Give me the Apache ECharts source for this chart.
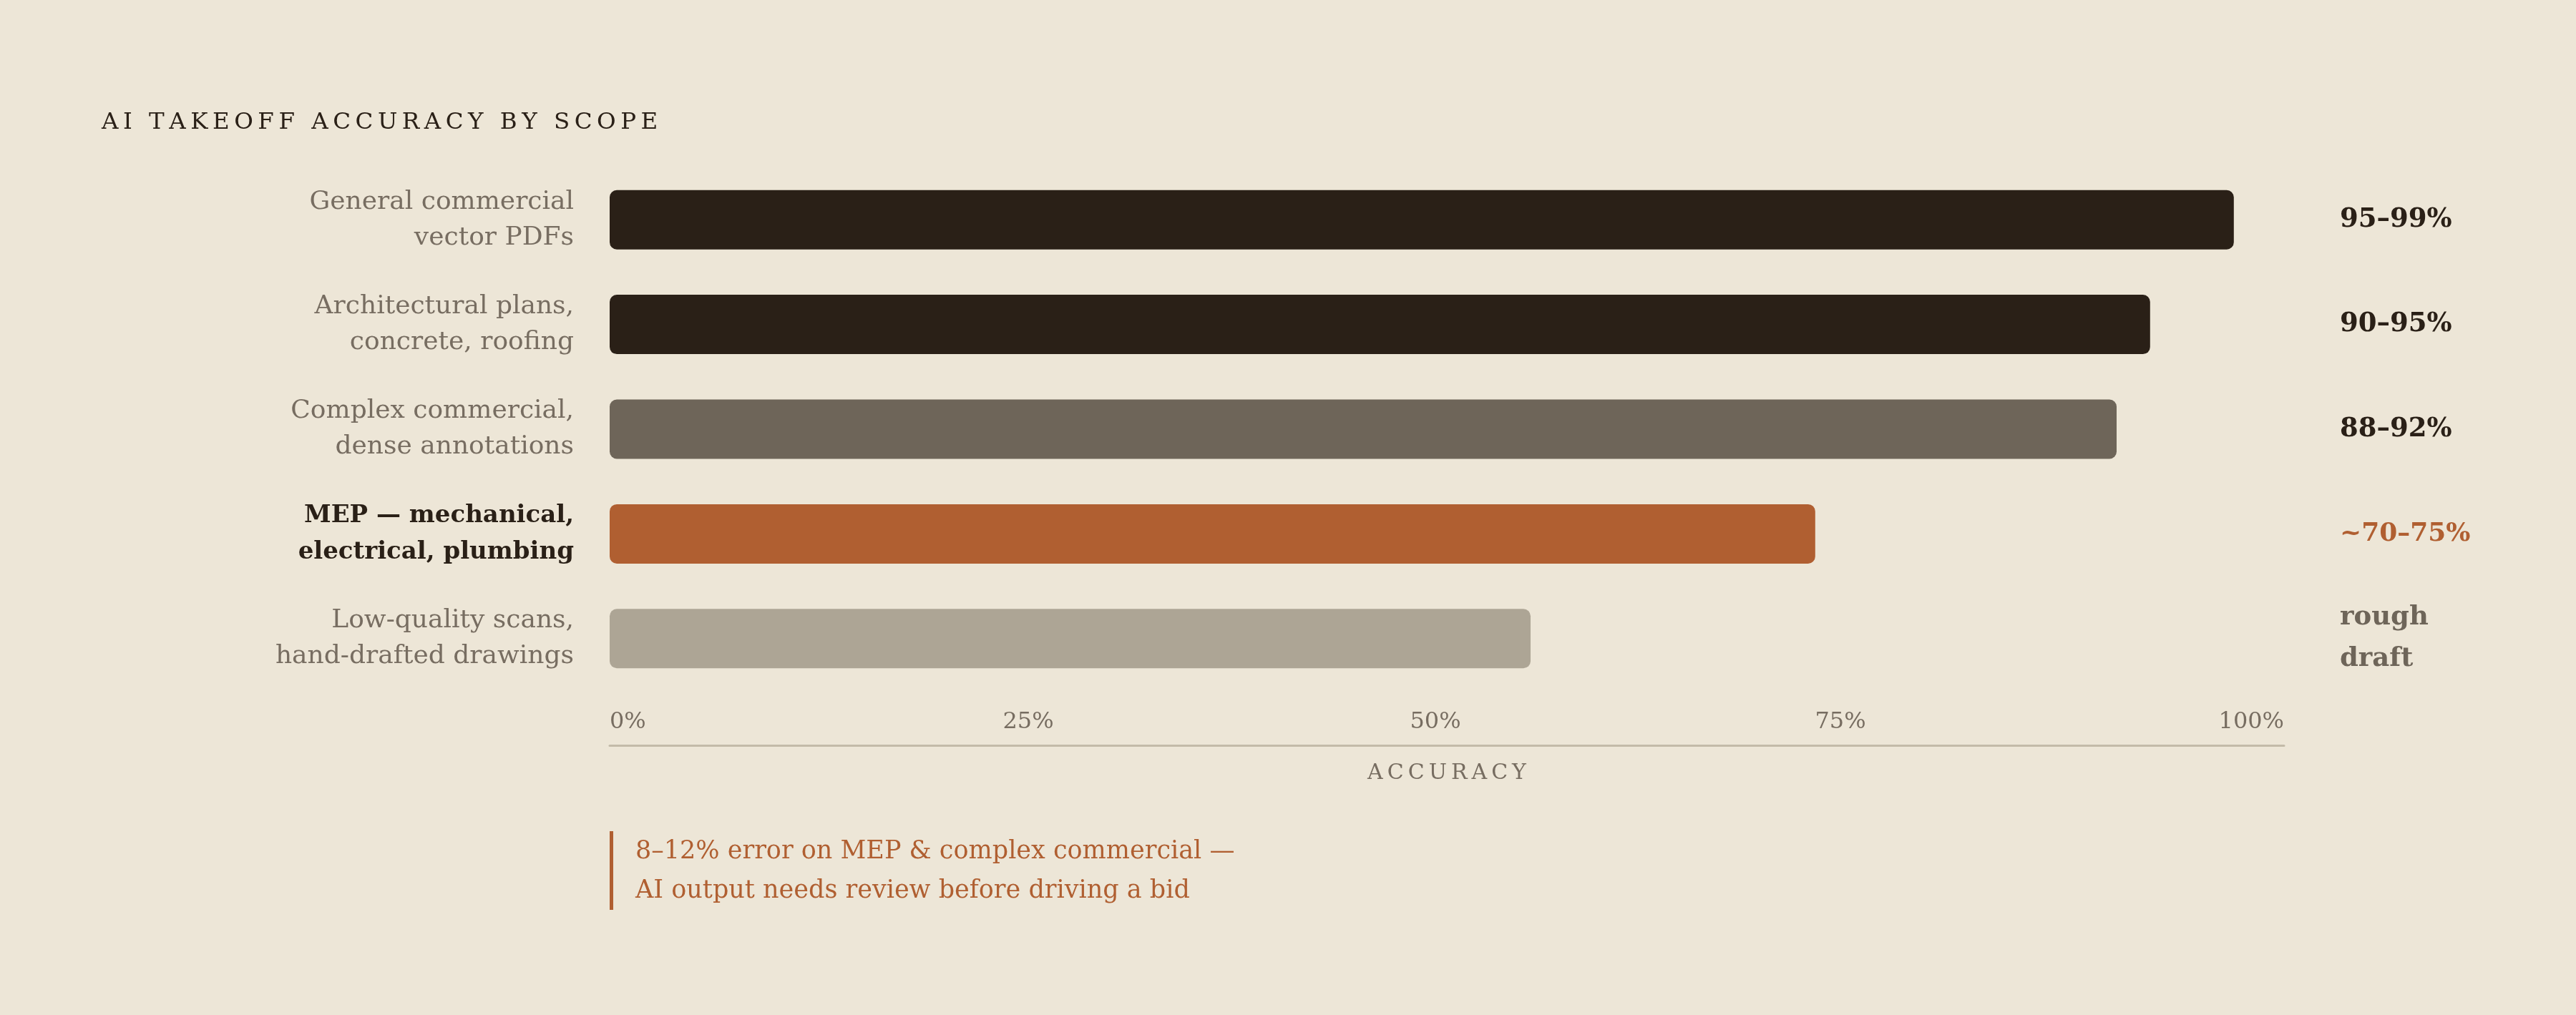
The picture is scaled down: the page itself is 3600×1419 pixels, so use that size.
<!DOCTYPE html>
<html>
<head>
<meta charset="utf-8">
<script src="https://cdn.jsdelivr.net/npm/echarts@6/dist/echarts.min.js"></script>
<style>
  html, body { margin: 0; padding: 0; background: #ede6d7; }
  #chart { width: 3600px; height: 1419px; }
</style>
</head>
<body>
<div id="chart"></div>
<script>
// ---- data ----
const categories = [
  'General commercial\nvector PDFs',
  'Architectural plans,\nconcrete, roofing',
  'Complex commercial,\ndense annotations',
  'MEP — mechanical,\nelectrical, plumbing',
  'Low-quality scans,\nhand-drafted drawings'
];
const accuracy = [97, 92, 90, 72, 55];
const rangeLabels = ['95–99%', '90–95%', '88–92%', '~70–75%', 'rough\ndraft'];
const tickValues = [0, 25, 50, 75, 100];
const titleText = 'AI TAKEOFF ACCURACY BY SCOPE';
const axisName = 'ACCURACY';
const noteLines = ['8–12% error on MEP & complex commercial —', 'AI output needs review before driving a bid'];

// ---- styles ----
const FONT = '"DejaVu Serif", "Liberation Serif", serif';
const barColors = ['#2a2017', '#2a2017', '#6e6559', '#b05f31', '#ada595'];
const rangeStyles = ['dark', 'dark', 'dark', 'accent', 'muted'];
const highlightIndex = 3;
const spaced = s => s.split('').join('\u2009');

const chart = echarts.init(document.getElementById('chart'));
chart.setOption({
  backgroundColor: '#ede6d7',
  animation: false,
  title: {
    text: spaced(titleText),
    left: 137, top: 150,
    textStyle: { fontFamily: FONT, fontSize: 32.5, fontWeight: 'normal', color: '#2a2017' }
  },
  grid: { left: 852, right: 408, top: 234, bottom: 453, containLabel: false },
  xAxis: {
    type: 'value', min: tickValues[0], max: tickValues[tickValues.length - 1], interval: 25,
    offset: 76,
    axisLine: { show: true, lineStyle: { color: '#c3bba9', width: 3 } },
    axisTick: { show: false },
    splitLine: { show: false },
    axisLabel: {
      inside: true, margin: 16,
      alignMinLabel: 'left', alignMaxLabel: 'right',
      fontFamily: FONT, fontSize: 32, color: '#776d61',
      formatter: v => v === 50 ? '{m|' + v + '%}' : (v === 75 ? '{n|' + v + '%}' : v + '%'),
      rich: {
        m: { fontFamily: FONT, fontSize: 32, color: '#776d61', padding: [0, 32, 0, 0] },
        n: { fontFamily: FONT, fontSize: 32, color: '#776d61', padding: [0, 70, 0, 0] }
      }
    },
    name: spaced(axisName),
    nameLocation: 'middle',
    nameGap: 24,
    nameTextStyle: { fontFamily: FONT, fontSize: 30, color: '#776d61', verticalAlign: 'top' }
  },
  yAxis: [
    {
      type: 'category', data: categories, inverse: true,
      axisLine: { show: false }, axisTick: { show: false }, splitLine: { show: false },
      axisLabel: {
        margin: 50, align: 'right',
        fontFamily: FONT, fontSize: 36, lineHeight: 50, color: '#776d61',
        formatter: (v, i) => i === highlightIndex
          ? v.split('\n').map(l => '{b|' + l + '}').join('\n')
          : v.split('\n').map(l => '{r|' + l + '}').join('\n'),
        rich: {
          r: { fontFamily: FONT, fontSize: 36, lineHeight: 50, color: '#776d61', align: 'right' },
          b: { fontFamily: FONT, fontSize: 34, lineHeight: 51, color: '#2a2017', fontWeight: 'bold', align: 'right' }
        }
      }
    },
    {
      type: 'category', data: rangeLabels, inverse: true, position: 'right',
      axisLine: { show: false }, axisTick: { show: false }, splitLine: { show: false },
      axisLabel: {
        margin: 78, align: 'left',
        fontFamily: FONT, fontSize: 37, fontWeight: 'bold', lineHeight: 58,
        formatter: (v, i) => v.split('\n').map(l => '{' + rangeStyles[i] + '|' + l + '}').join('\n'),
        rich: {
          dark: { fontFamily: FONT, fontSize: 37, fontWeight: 'bold', lineHeight: 58, color: '#2a2017', align: 'left' },
          accent: { fontFamily: FONT, fontSize: 36, fontWeight: 'bold', lineHeight: 58, color: '#b05f31', align: 'left' },
          muted: { fontFamily: FONT, fontSize: 37, fontWeight: 'bold', lineHeight: 58, color: '#6e6559', align: 'left' }
        }
      }
    }
  ],
  series: [{
    type: 'bar',
    yAxisIndex: 0,
    barWidth: 83,
    data: accuracy.map((v, i) => ({ value: v, itemStyle: { color: barColors[i] } })),
    itemStyle: { borderRadius: 10 },
    label: { show: false }
  }],
  graphic: [
    { type: 'rect', left: 852, top: 1162, shape: { width: 5, height: 110 }, style: { fill: '#b05f31' } },
    {
      type: 'text', left: 888, top: 1163,
      style: { text: noteLines.join('\n'), font: '35px ' + FONT, fill: '#b05f31', lineHeight: 55 }
    }
  ]
});
</script>
</body>
</html>
